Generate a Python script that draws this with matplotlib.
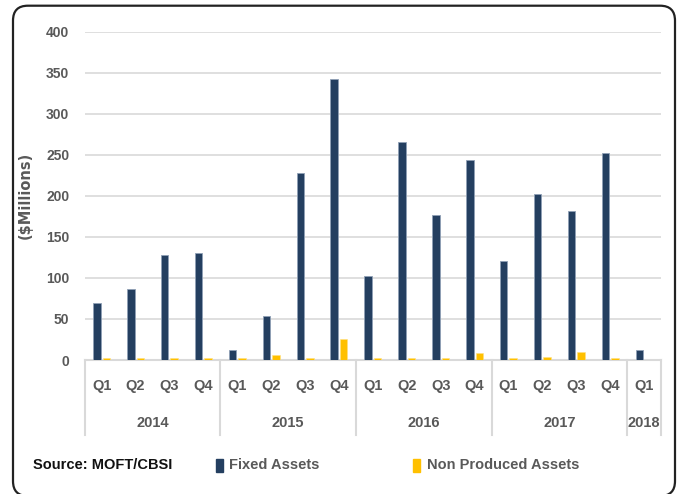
import matplotlib
matplotlib.use("Agg")
import matplotlib.pyplot as plt
from matplotlib.patches import FancyBboxPatch, Rectangle
import numpy as np

years = ["2014", "2015", "2016", "2017", "2018"]
quarters_per_year = [4, 4, 4, 4, 1]
quarter_labels = ["Q1", "Q2", "Q3", "Q4"] * 4 + ["Q1"]
fixed_assets = [70, 86, 128, 130, 12, 54, 228, 342, 102, 266, 177, 243, 120, 202, 181, 252, 12]
non_produced = [2, 2, 2, 2, 2, 6, 2, 26, 2, 2, 2, 8, 2, 4, 10, 2, 0]
y_ticks = [0, 50, 100, 150, 200, 250, 300, 350, 400]

FIXED_C = "#243F60"
NP_C = "#FFC000"
GRID_C = "#D9D9D9"
TXT_C = "#595959"

plt.rcParams["font.family"] = ["Liberation Sans", "DejaVu Sans"]
FS = 10

W, H = 678, 494
fig = plt.figure(figsize=(W / 100, H / 100), dpi=100)

# rounded frame
fb = -2 / H
frame = FancyBboxPatch((13 / W, fb), (675 - 13) / W, (1 - 5.7 / H) - fb,
                       boxstyle="round,pad=0,rounding_size=0.022",
                       transform=fig.transFigure, fill=False, edgecolor="#222222",
                       linewidth=1.6, clip_on=False, mutation_aspect=W / H)
fig.patches.append(frame)

left, right = 84.7 / W, 661 / W
bottom, top = 1 - 360 / H, 1 - 31.5 / H
ax = fig.add_axes([left, bottom, right - left, top - bottom])

n = len(fixed_assets)
x = np.arange(n)
bw = 0.22
ax.bar(x - 0.14, fixed_assets, width=bw, color=FIXED_C, edgecolor="#8FA0B5", linewidth=0.6, zorder=3)
ax.bar(x + 0.14, non_produced, width=bw, color=NP_C, edgecolor="#FFE080", linewidth=0.4, zorder=3)

ax.set_xlim(-0.5, n - 0.5)
ax.set_ylim(0, 400)
ax.set_yticks(y_ticks)
ax.set_yticklabels([str(v) for v in y_ticks], fontsize=FS, fontweight="bold", color=TXT_C)
ax.tick_params(axis="y", length=0, pad=11)
ax.grid(axis="y", color=GRID_C, linewidth=1.2, zorder=0)
for s in ["top", "right", "left"]:
    ax.spines[s].set_visible(False)
ax.spines["bottom"].set_color(GRID_C)
ax.spines["bottom"].set_linewidth(1.5)

ax.set_xticks(x)
ax.set_xticklabels([])
ax.tick_params(axis="x", length=0)

trans = ax.get_xaxis_transform()
sep_y = -(435 - 360) / (360 - 31.5)
q_y = -(386 - 360) / (360 - 31.5)
yr_y = -(423 - 360) / (360 - 31.5)

for xi, ql in zip(x, quarter_labels):
    ax.text(xi, q_y, ql, transform=trans, ha="center", va="center",
            fontsize=FS + 0.5, fontweight="bold", color=TXT_C)

start = 0
bounds = [-0.5]
for yr, cnt in zip(years, quarters_per_year):
    center = start + (cnt - 1) / 2
    ax.text(center, yr_y, yr, transform=trans, ha="center", va="center",
            fontsize=FS + 0.5, fontweight="bold", color=TXT_C)
    start += cnt
    bounds.append(start - 0.5)
for b in bounds:
    ax.plot([b, b], [0, sep_y], transform=trans, color=GRID_C, linewidth=1.5, clip_on=False)

ax.set_ylabel("($Millions)", fontsize=10.5, fontweight="bold", color=TXT_C,
              family=["DejaVu Sans"])
ax.yaxis.set_label_coords(-(84.7 - 33) / (661 - 84.7), 0.5)

# legend row
ly = 1 - 465 / H
fig.text(33 / W, ly, "Source: MOFT/CBSI", fontsize=FS + 0.5, fontweight="bold", color="#111111",
         va="center", ha="left")
fig.patches.append(Rectangle((216 / W, ly - 6.5 / H), 7 / W, 13 / H, color=FIXED_C,
                             transform=fig.transFigure))
fig.text(229 / W, ly, "Fixed Assets", fontsize=FS + 0.5, fontweight="bold", color=TXT_C,
         va="center", ha="left")
fig.patches.append(Rectangle((413 / W, ly - 6.5 / H), 7 / W, 13 / H, color=NP_C,
                             transform=fig.transFigure))
fig.text(427 / W, ly, "Non Produced Assets", fontsize=FS + 0.5, fontweight="bold", color=TXT_C,
         va="center", ha="left")

fig.savefig("out.png", dpi=100)
